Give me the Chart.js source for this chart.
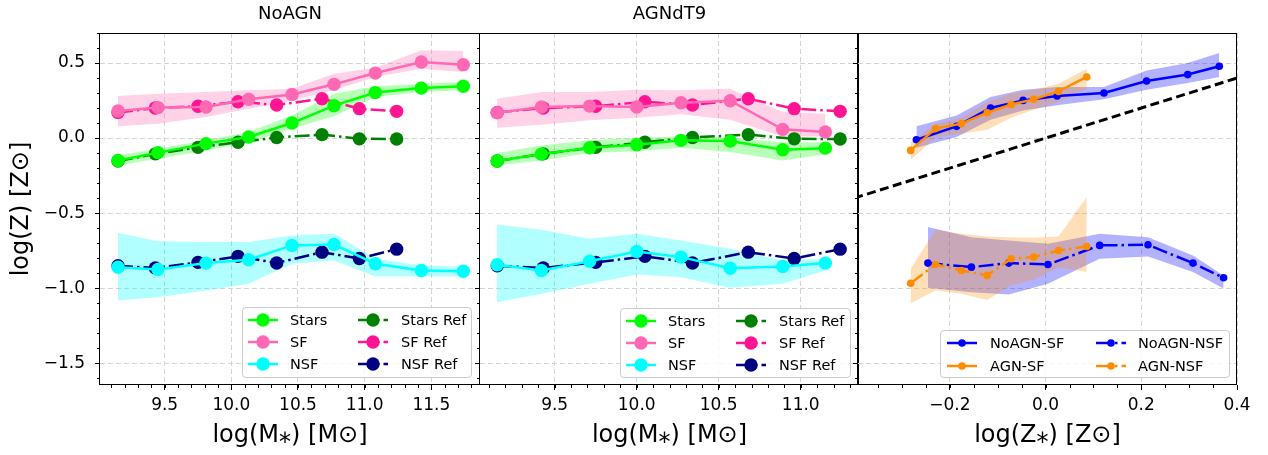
<!DOCTYPE html>
<html>
<head>
<meta charset="utf-8">
<script src="https://cdn.jsdelivr.net/npm/chart.js@4.4.1/dist/chart.umd.min.js"></script>
<style>
body { margin: 0; background: #fff; }
#wrap { position: relative; width: 1268px; height: 455px; overflow: hidden; font-family: 'DejaVu Sans', sans-serif; }
canvas { position: absolute; top: 0; }
.leg { position: absolute; background: rgba(255,255,255,0.8); border: 1px solid #cccccc; border-radius: 4px; box-sizing: border-box; }
.leg svg { position: absolute; }
.leg span { position: absolute; height: 22px; line-height: 22px; font-size: 14.5px; white-space: nowrap; color: #000; }
</style>
</head>
<body>
<div id="wrap">
  <canvas id="c1" width="490" height="455" style="left:0px"></canvas>
  <canvas id="c2" width="400" height="455" style="left:470px"></canvas>
  <canvas id="c3" width="420" height="455" style="left:848px"></canvas>
</div>
<script>
// ---- data: NoAGN panel (log M*, log Z)
var noagnX     = [9.15, 9.45, 9.81, 10.13, 10.455, 10.77, 11.08, 11.425, 11.74];
var noagnStars = [-0.149, -0.097, -0.037, 0.007, 0.100, 0.216, 0.303, 0.333, 0.345];
var noagnStarsHi = [-0.115, -0.071, -0.015, 0.040, 0.151, 0.296, 0.345, 0.362, 0.373];
var noagnStarsLo = [-0.182, -0.137, -0.082, -0.027, 0.063, 0.145, 0.273, 0.307, 0.318];
var noagnSF    = [0.180, 0.203, 0.207, 0.258, 0.291, 0.358, 0.433, 0.507, 0.489];
var noagnSFHi  = [0.280, 0.296, 0.307, 0.318, 0.329, 0.429, 0.469, 0.585, 0.580];
var noagnSFLo  = [0.078, 0.096, 0.140, 0.196, 0.251, 0.318, 0.407, 0.462, 0.440];
var noagnNSF   = [-0.860, -0.875, -0.833, -0.811, -0.715, -0.709, -0.837, -0.882, -0.887];
var noagnNSFHi = [-0.631, -0.687, -0.693, -0.693, -0.649, -0.637, -0.804, -0.849, -0.855];
var noagnNSFLo = [-1.082, -1.060, -1.015, -0.971, -0.837, -0.815, -0.922, -0.922, -0.922];

// ---- data: AGNdT9 panel
var agnX     = [9.149, 9.419, 9.713, 10.0, 10.27, 10.57, 10.89, 11.15];
var agnStars = [-0.153, -0.107, -0.064, -0.044, -0.015, -0.020, -0.078, -0.067];
var agnStarsHi = [-0.100, -0.049, -0.015, 0.002, 0.011, 0.002, -0.027, -0.027];
var agnStarsLo = [-0.182, -0.149, -0.100, -0.087, -0.064, -0.093, -0.149, -0.107];
var agnSF    = [0.169, 0.207, 0.213, 0.207, 0.236, 0.249, 0.058, 0.040];
var agnSFHi  = [0.262, 0.307, 0.307, 0.322, 0.318, 0.329, 0.173, 0.162];
var agnSFLo  = [0.069, 0.089, 0.118, 0.136, 0.158, 0.122, 0.011, 0.011];
var agnNSF   = [-0.844, -0.882, -0.820, -0.755, -0.793, -0.867, -0.855, -0.833];
var agnNSFHi = [-0.575, -0.611, -0.671, -0.637, -0.682, -0.737, -0.815, -0.804];
var agnNSFLo = [-1.093, -1.037, -0.971, -0.909, -0.927, -0.997, -0.971, -0.882];

// ---- data: reference run (same in both mass panels)
var refX     = [9.15, 9.43, 9.75, 10.05, 10.34, 10.68, 10.96, 11.24];
var refStars = [-0.153, -0.105, -0.062, -0.028, 0.004, 0.023, -0.005, -0.006];
var refSF    = [0.171, 0.200, 0.212, 0.242, 0.220, 0.262, 0.196, 0.178];
var refNSF   = [-0.851, -0.865, -0.828, -0.788, -0.832, -0.760, -0.802, -0.740];

// ---- data: gas vs stellar metallicity panel
var zNoSFX  = [-0.270, -0.186, -0.115, -0.047, 0.024, 0.122, 0.211, 0.297, 0.363];
var zNoSF   = [-0.011, 0.078, 0.200, 0.251, 0.280, 0.300, 0.380, 0.423, 0.478];
var zNoSFHi = [0.078, 0.151, 0.273, 0.322, 0.340, 0.340, 0.451, 0.500, 0.567];
var zNoSFLo = [-0.064, 0.007, 0.122, 0.184, 0.218, 0.258, 0.322, 0.367, 0.407];
var zNoNSFX  = [-0.246, -0.155, -0.077, 0.005, 0.113, 0.214, 0.308, 0.372];
var zNoNSF   = [-0.833, -0.860, -0.833, -0.842, -0.715, -0.711, -0.833, -0.931];
var zNoNSFHi = [-0.593, -0.660, -0.682, -0.704, -0.637, -0.660, -0.782, -0.915];
var zNoNSFLo = [-0.997, -1.027, -1.042, -0.971, -0.804, -0.789, -0.893, -1.002];
var zAgnX    = [-0.282, -0.230, -0.176, -0.122, -0.072, -0.025, 0.027, 0.086];
var zAgnSF   = [-0.082, 0.063, 0.096, 0.169, 0.224, 0.258, 0.311, 0.407];
var zAgnSFHi = [-0.027, 0.096, 0.136, 0.240, 0.296, 0.322, 0.362, 0.462];
var zAgnSFLo = [-0.144, 0.002, 0.029, 0.056, 0.136, 0.189, 0.240, 0.329];
var zAgnNSF   = [-0.967, -0.842, -0.882, -0.915, -0.804, -0.793, -0.749, -0.722];
var zAgnNSFHi = [-0.871, -0.611, -0.637, -0.655, -0.660, -0.664, -0.655, -0.393];
var zAgnNSFLo = [-1.100, -1.015, -1.037, -1.078, -0.982, -0.944, -0.860, -0.893];
var oneToOne = [-0.4, 0.4];

// ---- ticks and labels
var yTicks  = [-1.5, -1.0, -0.5, 0.0, 0.5];
var xTicks1 = [9.5, 10.0, 10.5, 11.0, 11.5];
var xTicks2 = [9.5, 10.0, 10.5, 11.0];
var xTicks3 = [-0.2, 0.0, 0.2, 0.4];
var massLegend = ['Stars', 'SF', 'NSF', 'Stars Ref', 'SF Ref', 'NSF Ref'];
var zLegend = ['NoAGN-SF', 'AGN-SF', 'NoAGN-NSF', 'AGN-NSF'];

var C = { stars: '#00ff00', sf: '#ff69b4', nsf: '#00ffff', starsRef: '#008000', sfRef: '#ff1493', nsfRef: '#000080', blue: '#0000ff', orange: '#ff8c00' };
var DASHDOT = [15, 4, 2.5, 4];
var GRID = '#d4d4d4';

Chart.defaults.font.family = "'DejaVu Sans', sans-serif";
Chart.defaults.color = '#000';
Chart.defaults.animation = false;

function fmt(v) { return (v < 0 ? '\u2212' : '') + Math.abs(v).toFixed(1); }
function pts(xs, ys) { return xs.map(function (x, i) { return { x: x, y: ys[i] }; }); }

function line(label, xs, ys, color, dash, r) {
    return {
        label: label, data: pts(xs, ys), borderColor: color, backgroundColor: color,
        pointBackgroundColor: color, pointBorderColor: color, pointBorderWidth: 0,
        pointRadius: r, borderWidth: 2.5, borderDash: dash, fill: false, tension: 0
    };
}
function band(xs, lo, hi, color) {
    return [
        { label: '', data: pts(xs, hi), borderWidth: 0, pointRadius: 0, borderColor: 'transparent', fill: false },
        { label: '', data: pts(xs, lo), borderWidth: 0, pointRadius: 0, borderColor: 'transparent', backgroundColor: color, fill: '-1' }
    ];
}

function xScale(min, max, ticks, title) {
    return {
        type: 'linear', min: min, max: max,
        afterBuildTicks: function (s) { s.ticks = ticks.map(function (v) { return { value: v }; }); },
        afterFit: function (s) { s.height = 70; },
        ticks: { callback: fmt, font: { size: 17 }, padding: 5, autoSkip: false, maxRotation: 0, minRotation: 0 },
        grid: { color: GRID, tickColor: '#000', tickLength: 5, tickWidth: 1 },
        border: { display: false, dash: [5, 3] },
        title: { display: true, text: title, font: { size: 24 }, padding: { top: 0, bottom: 4.6 } }
    };
}
function yScale(labels, width) {
    return {
        type: 'linear', min: -1.645, max: 0.7,
        afterBuildTicks: function (s) { s.ticks = yTicks.map(function (v) { return { value: v }; }); },
        afterFit: function (s) { s.width = width; },
        ticks: { display: labels, callback: fmt, font: { size: 17 }, padding: 10, autoSkip: false },
        grid: { color: GRID, tickColor: '#000', tickLength: 5, tickWidth: 1 },
        border: { display: false, dash: [5, 3] },
        title: { display: labels, text: 'log(Z) [Z\u2299]', font: { size: 24 }, padding: { top: 7.6, bottom: 0 } }
    };
}

// frame round the plot area plus minor ticks
var frame = {
    id: 'frame',
    afterDraw: function (chart, args, o) {
        var a = chart.chartArea, ctx = chart.ctx, xs = chart.scales.x, ys = chart.scales.y;
        ctx.save();
        ctx.strokeStyle = '#000';
        ctx.lineWidth = 1;
        ctx.beginPath();
        var i, p;
        for (i = Math.ceil(xs.min / o.xMinor - 1e-6); i * o.xMinor <= xs.max + 1e-9; i++) {
            p = Math.round(xs.getPixelForValue(i * o.xMinor)) + 0.5;
            ctx.moveTo(p, a.bottom); ctx.lineTo(p, a.bottom + 3);
        }
        for (i = Math.ceil(ys.min / 0.1 - 1e-6); i * 0.1 <= ys.max + 1e-9; i++) {
            p = Math.round(ys.getPixelForValue(i * 0.1)) + 0.5;
            ctx.moveTo(a.left, p); ctx.lineTo(a.left - 3, p);
        }
        ctx.stroke();
        var L = Math.round(a.left) - 0.5, R = Math.round(a.right) - 0.5;
        var T = Math.round(a.top) + 0.5, B = Math.round(a.bottom) - 0.5;
        ctx.strokeRect(L, T, R - L, B - T);
        ctx.restore();
    }
};

function options(xs, ys, title, pad, xMinor) {
    return {
        responsive: false,
        layout: { padding: pad },
        scales: { x: xs, y: ys },
        plugins: {
            legend: { display: false },
            tooltip: { enabled: false },
            filler: { propagate: false, drawTime: 'beforeDatasetsDraw' },
            title: title ? { display: true, text: title, font: { size: 18, weight: 'normal' }, color: '#000', padding: { top: 4, bottom: 7.4 }, fullSize: false } : { display: false },
            frame: { xMinor: xMinor }
        }
    };
}

var R1 = 6.7;
var ds1 = [
    line(massLegend[0], noagnX, noagnStars, C.stars, [], R1),
    line(massLegend[1], noagnX, noagnSF, C.sf, [], R1),
    line(massLegend[2], noagnX, noagnNSF, C.nsf, [], R1),
    line(massLegend[3], refX, refStars, C.starsRef, DASHDOT, R1),
    line(massLegend[4], refX, refSF, C.sfRef, DASHDOT, R1),
    line(massLegend[5], refX, refNSF, C.nsfRef, DASHDOT, R1)
].concat(band(noagnX, noagnStarsLo, noagnStarsHi, 'rgba(0,255,0,0.28)'),
         band(noagnX, noagnSFLo, noagnSFHi, 'rgba(255,105,180,0.3)'),
         band(noagnX, noagnNSFLo, noagnNSFHi, 'rgba(0,255,255,0.3)'));

var ds2 = [
    line(massLegend[0], agnX, agnStars, C.stars, [], R1),
    line(massLegend[1], agnX, agnSF, C.sf, [], R1),
    line(massLegend[2], agnX, agnNSF, C.nsf, [], R1),
    line(massLegend[3], refX, refStars, C.starsRef, DASHDOT, R1),
    line(massLegend[4], refX, refSF, C.sfRef, DASHDOT, R1),
    line(massLegend[5], refX, refNSF, C.nsfRef, DASHDOT, R1)
].concat(band(agnX, agnStarsLo, agnStarsHi, 'rgba(0,255,0,0.28)'),
         band(agnX, agnSFLo, agnSFHi, 'rgba(255,105,180,0.3)'),
         band(agnX, agnNSFLo, agnNSFHi, 'rgba(0,255,255,0.3)'));

var R3 = 3.8;
var ds3 = [
    line(zLegend[1], zAgnX, zAgnSF, C.orange, [], R3),
    line(zLegend[3], zAgnX, zAgnNSF, C.orange, DASHDOT, R3),
    line(zLegend[0], zNoSFX, zNoSF, C.blue, [], R3),
    line(zLegend[2], zNoNSFX, zNoNSF, C.blue, DASHDOT, R3),
    { label: '', data: pts(oneToOne, oneToOne), borderColor: '#000', borderWidth: 3, borderDash: [9, 4.5], pointRadius: 0, fill: false }
].concat(band(zAgnX, zAgnSFLo, zAgnSFHi, 'rgba(255,140,0,0.28)'),
         band(zAgnX, zAgnNSFLo, zAgnNSFHi, 'rgba(255,140,0,0.28)'),
         band(zNoSFX, zNoSFLo, zNoSFHi, 'rgba(0,0,255,0.3)'),
         band(zNoNSFX, zNoNSFLo, zNoNSFHi, 'rgba(0,0,255,0.3)'));

var mLabel = 'log(M\u204E) [M\u2299]';
new Chart(document.getElementById('c1'), {
    type: 'line', data: { datasets: ds1 }, plugins: [frame],
    options: options(xScale(9.015, 11.865, xTicks1, mLabel), yScale(true, 100), 'NoAGN', { left: 0, right: 10, top: 0, bottom: 0 }, 0.1)
});
new Chart(document.getElementById('c2'), {
    type: 'line', data: { datasets: ds2 }, plugins: [frame],
    options: options(xScale(9.045, 11.355, xTicks2, mLabel), yScale(false, 10), 'AGNdT9', { left: 0, right: 11, top: 0, bottom: 0 }, 0.1)
});
new Chart(document.getElementById('c3'), {
    type: 'line', data: { datasets: ds3 }, plugins: [frame],
    options: options(xScale(-0.392, 0.4, xTicks3, 'log(Z\u204E) [Z\u2299]'), yScale(false, 10), null, { left: 0, right: 31, top: 33, bottom: 0 }, 0.05)
});

// legends inside the panels (html, column-major)
function addLegend(box, rows, rowTop, rowGap, cols, labels, colors, dashes, r) {
    var d = document.createElement('div');
    d.className = 'leg';
    d.style.left = box[0] + 'px'; d.style.top = box[1] + 'px';
    d.style.width = box[2] + 'px'; d.style.height = box[3] + 'px';
    labels.forEach(function (lab, i) {
        var c = Math.floor(i / rows), row = i % rows;
        var cy = rowTop + row * rowGap;
        var svg = '<svg width="30" height="16" style="left:' + cols[c][0] + 'px;top:' + (cy - 8) + 'px">' +
            '<line x1="0" y1="8" x2="30" y2="8" stroke="' + colors[i] + '" stroke-width="2.5" stroke-dasharray="' + (dashes[i].length ? dashes[i].join(',') : 'none') + '"/>' +
            '<circle cx="15" cy="8" r="' + r + '" fill="' + colors[i] + '"/></svg>';
        d.insertAdjacentHTML('beforeend', svg + '<span style="left:' + cols[c][1] + 'px;top:' + (cy - 11) + 'px">' + lab + '</span>');
    });
    document.getElementById('wrap').appendChild(d);
}
var massColors = [C.stars, C.sf, C.nsf, C.starsRef, C.sfRef, C.nsfRef];
var massDash = [[], [], [], DASHDOT, DASHDOT, DASHDOT];
addLegend([242, 307, 230, 71], 3, 12, 22, [[5, 47], [115, 158]], massLegend, massColors, massDash, R1);
addLegend([620, 308, 231, 70], 3, 12, 22, [[5, 47], [115, 158]], massLegend, massColors, massDash, R1);
addLegend([940, 330, 290, 48], 2, 12, 22.5, [[6, 49], [155, 197]], zLegend, [C.blue, C.orange, C.blue, C.orange], [[], [], DASHDOT, DASHDOT], R3);
</script>
</body>
</html>
